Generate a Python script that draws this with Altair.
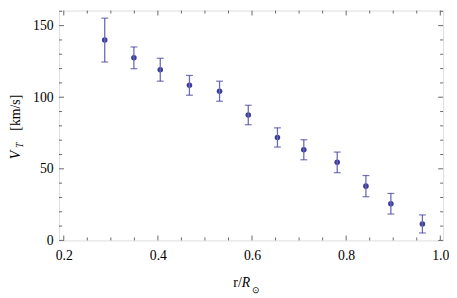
import altair as alt
import pandas as pd

# data
r_vals = [0.287, 0.349, 0.405, 0.467, 0.531, 0.592, 0.654, 0.710, 0.781, 0.842, 0.895, 0.962]
v_vals = [139.9, 127.5, 119.2, 108.3, 104.2, 87.6, 71.9, 63.3, 54.5, 37.9, 25.6, 11.5]
err_vals = [15.3, 7.6, 8.0, 6.9, 7.0, 6.8, 6.7, 7.0, 7.2, 7.4, 7.2, 6.3]

x_major = [0.2, 0.4, 0.6, 0.8, 1.0]
x_minor = [0.25, 0.3, 0.35, 0.45, 0.5, 0.55, 0.65, 0.7, 0.75, 0.85, 0.9, 0.95]
y_major = [0, 50, 100, 150]
y_minor = [10, 20, 30, 40, 60, 70, 80, 90, 110, 120, 130, 140, 160]

X_DOMAIN = [0.19, 1.006]
Y_DOMAIN = [0, 160.5]
W, H = 391, 234
FONT = "serif"
PT = "#3a3a99"
BAR = "#6a6ab8"
FRAME = "#666666"

df = pd.DataFrame({"r": r_vals, "v": v_vals, "err": err_vals})
df["lo"] = df["v"] - df["err"]
df["hi"] = df["v"] + df["err"]

xs = alt.Scale(domain=X_DOMAIN, nice=False, zero=False)
ys = alt.Scale(domain=Y_DOMAIN, nice=False, zero=False)
xax = alt.Axis(values=x_major, format=".1f", domain=False, ticks=False, tickSize=0,
               grid=False, labelFont=FONT, labelFontSize=14, labelColor="black",
               labelPadding=8, labelFlush=False, title=None)
yax = alt.Axis(values=y_major, format="d", domain=False, ticks=False, tickSize=0,
               grid=False, labelFont=FONT, labelFontSize=14, labelColor="black",
               labelPadding=6, title=None)

def X(f):
    return alt.X(f, scale=xs, axis=xax, title=None)

def Y(f):
    return alt.Y(f, scale=ys, axis=yax, title=None)

base = alt.Chart(df)

points = base.mark_circle(size=32, opacity=1, color=PT).encode(x=X("r:Q"), y=Y("v:Q"))
bars = base.mark_rule(color=BAR, strokeWidth=1.3).encode(x=X("r:Q"), y=Y("lo:Q"), y2="hi:Q")
cap_lo = base.mark_tick(orient="horizontal", size=7, thickness=1.2, color=PT).encode(
    x=X("r:Q"), y=Y("lo:Q"))
cap_hi = base.mark_tick(orient="horizontal", size=7, thickness=1.2, color=PT).encode(
    x=X("r:Q"), y=Y("hi:Q"))

def xticks(vals, length):
    d = alt.Chart(pd.DataFrame({"t": vals}))
    bottom = d.mark_rule(color=FRAME, strokeWidth=1).encode(
        x=X("t:Q"), y=alt.value(H), y2=alt.value(H - length))
    top = d.mark_rule(color=FRAME, strokeWidth=1).encode(
        x=X("t:Q"), y=alt.value(0), y2=alt.value(length))
    return [bottom, top]

def yticks(vals, length):
    d = alt.Chart(pd.DataFrame({"t": vals}))
    left = d.mark_rule(color=FRAME, strokeWidth=1).encode(
        y=Y("t:Q"), x=alt.value(0), x2=alt.value(length))
    right = d.mark_rule(color=FRAME, strokeWidth=1).encode(
        y=Y("t:Q"), x=alt.value(W), x2=alt.value(W - length))
    return [left, right]

tick_layers = xticks(x_major, 5) + xticks(x_minor, 3) + yticks(y_major, 5) + yticks(y_minor, 3)

lab = pd.DataFrame({"a": [0]})
def txt(s, x, y, size=14, italic=False, angle=0, align="center"):
    kw = dict(font=FONT, fontSize=size, color="black", align=align, baseline="alphabetic")
    if italic:
        kw["fontStyle"] = "italic"
    if angle:
        kw["angle"] = angle
    return alt.Chart(lab).mark_text(**kw).encode(
        x=alt.value(x), y=alt.value(y), text=alt.value(s))

titles = [
    txt("r/", 186, 281, align="right"),
    txt("R", 186, 281, italic=True, align="left"),
    txt("\u2299", 196, 288, size=9, align="left"),
    txt("V", -40, 147, italic=True, angle=270),
    txt("T", -37, 137, size=10, italic=True, angle=270),
    txt("[km/s]", -40, 104, angle=270),
]

chart = alt.layer(points, bars, cap_lo, cap_hi, *tick_layers, *titles).properties(
    width=W, height=H,
    autosize=alt.AutoSizeParams(type="none"),
    padding={"left": 52, "top": 0, "right": 6, "bottom": 56},
).configure_view(stroke=FRAME, strokeWidth=1).configure(background="white")

chart.save("out.html", embed_options={"renderer": "svg", "actions": False})
